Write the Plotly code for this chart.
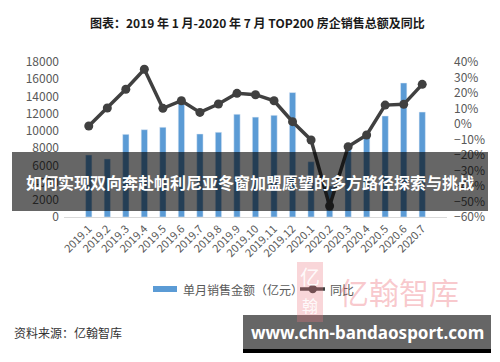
import plotly.graph_objects as go

months = ['2019.1', '2019.2', '2019.3', '2019.4', '2019.5', '2019.6', '2019.7', '2019.8',
          '2019.9', '2019.10', '2019.11', '2019.12', '2020.1', '2020.2', '2020.3',
          '2020.4', '2020.5', '2020.6', '2020.7']
sales = [7200, 6740, 9600, 10140, 10420, 13400, 9640, 9840, 11930, 11600, 11810, 14450,
         6420, 3600, 7900, 9440, 11730, 15560, 12190]
yoy = [-1.3, 10.3, 22.4, 35.3, 10.1, 15.0, 7.5, 12.9, 19.8, 18.9, 15.0, 1.5,
       -10.3, -52.9, -14.6, -7.1, 12.2, 12.7, 25.6]
bar_name = '单月销售金额（亿元）'
line_name = '同比'

W, H = 500, 362
OFF = 8  # page body margin offset
# plot area in screenshot pixels: x 64..447, y 62..217
L = 64 - OFF
T = 62 - OFF
R = W - (447 - OFF)
B = H - (217 - OFF)
PW, PH = W - L - R, H - T - B
FONT = "Noto Sans CJK SC"
BAR_C = '#5B9BD5'
LINE_C = '#404040'


def xp(px):
    return (px - OFF - L) / PW


def yp(py):
    return (H - B - (py - OFF)) / PH


fig = go.Figure()
fig.add_bar(x=months, y=sales, name=bar_name, marker_color=BAR_C, yaxis='y')
fig.add_scatter(x=months, y=yoy, name=line_name, mode='lines+markers', yaxis='y2',
                line=dict(color=LINE_C, width=3.5), marker=dict(size=9, color=LINE_C))


def prect(x0, x1, y0, y1, fill, layer='above'):
    return dict(type='rect', xref='paper', yref='paper', x0=xp(x0), x1=xp(x1), y0=yp(y0), y1=yp(y1),
                fillcolor=fill, line=dict(width=0), layer=layer)


shapes = [
    # legend
    prect(153, 177, 286, 292, BAR_C),
    dict(type='line', xref='paper', yref='paper', x0=xp(300), x1=xp(325), y0=yp(289), y1=yp(289),
         line=dict(color=LINE_C, width=3.5)),
    dict(type='circle', xref='paper', yref='paper', x0=xp(308.5), x1=xp(317), y0=yp(284.8), y1=yp(293.2),
         fillcolor=LINE_C, line=dict(width=0)),
    # overlays
    prect(12, 488, 152, 211, 'rgba(0,0,0,0.6)'),
    prect(243, 491, 315, 349, '#666666'),
    prect(243, 491, 349, 353, '#000000'),
    prect(297, 323, 262, 322, 'rgba(235,120,130,0.3)'),
]


def ann(text, x, y, size, color, family=FONT, xanchor='center'):
    return dict(text=text, x=xp(x), y=yp(y), xref='paper', yref='paper', showarrow=False,
                xanchor=xanchor, yanchor='middle', font=dict(size=size, color=color, family=family))


annotations = [
    ann('<b>图表：2019 年 1 月-2020 年 7 月 TOP200 房企销售总额及同比</b>', 257, 23, 12, '#1a1a1a'),
    ann(bar_name, 181, 289, 12, '#595959', xanchor='left'),
    ann(line_name, 328, 289, 12, '#595959', xanchor='left'),
    ann('<b>如何实现双向奔赴帕利尼亚冬窗加盟愿望的多方路径探索与挑战</b>', 250, 182, 16, 'white'),
    ann('资料来源：亿翰智库', 12, 332, 12, '#333333', xanchor='left'),
    ann('亿翰智库', 399, 291, 30, 'rgba(235,100,110,0.35)'),
    ann('亿', 310, 276, 20, 'rgba(255,255,255,0.9)'),
    ann('翰', 310, 305, 16, 'rgba(255,255,255,0.9)'),
    ann('<b>www.chn-bandaosport.com</b>', 367, 332, 17, 'white', family='Noto Sans'),
]

fig.update_layout(
    width=W, height=H, margin=dict(l=L, r=R, t=T, b=B, autoexpand=False),
    paper_bgcolor='white', plot_bgcolor='white',
    font=dict(family=FONT, color='#595959'),
    bargap=0.66, showlegend=False,
    xaxis=dict(showline=True, linecolor='#d9d9d9', linewidth=1, tickangle=-45, automargin=False,
               tickfont=dict(size=11, color='#595959'), ticks='', showgrid=False),
    yaxis=dict(range=[0, 18000], dtick=2000, tickformat='d', showgrid=False, zeroline=False,
               automargin=False, ticklabelstandoff=4, tickfont=dict(size=12, color='#595959')),
    yaxis2=dict(range=[-60, 40], dtick=10, ticksuffix='%', overlaying='y', side='right',
                automargin=False, showgrid=False, zeroline=False, ticklabelstandoff=6,
                tickfont=dict(size=12, color='#595959')),
    shapes=shapes, annotations=annotations,
)

fig.write_html('out.html')
